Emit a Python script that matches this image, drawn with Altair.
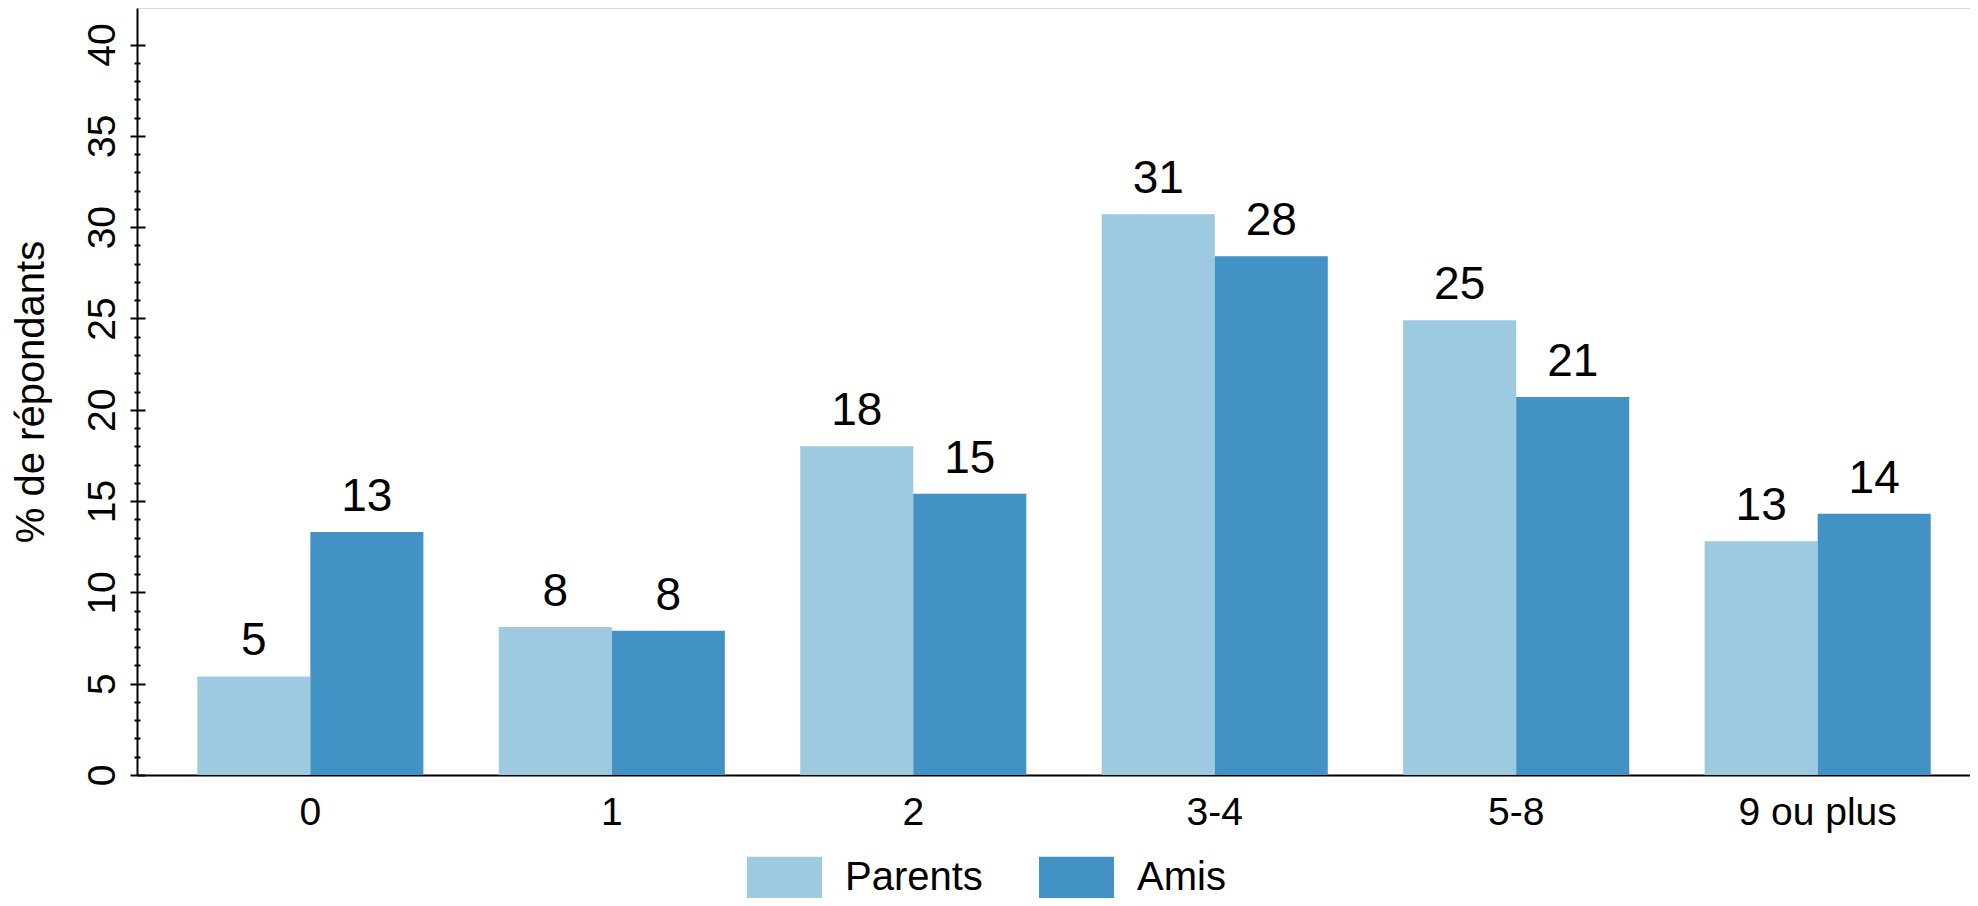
import altair as alt
import pandas as pd

categories = ["0", "1", "2", "3-4", "5-8", "9 ou plus"]
series = ["Parents", "Amis"]
parents = [5.4, 8.1, 18.0, 30.7, 24.9, 12.8]
amis = [13.3, 7.9, 15.4, 28.4, 20.7, 14.3]
colors = ["#9ecae1", "#4292c6"]
y_ticks = list(range(0, 41))

rows = []
for c, p, a in zip(categories, parents, amis):
    rows.append({"cat": c, "serie": "Parents", "val": p})
    rows.append({"cat": c, "serie": "Amis", "val": a})
df = pd.DataFrame(rows)

FONT = "Liberation Sans"
W, H = 1833, 767

xenc = alt.X(
    "cat:N", sort=categories,
    scale=alt.Scale(paddingInner=0.25, paddingOuter=0.2, range=[0, 1854]),
    axis=alt.Axis(title=None, ticks=False, labelAngle=0, labelFontSize=39,
                  labelPadding=18, labelColor="black", domainColor="black",
                  domainWidth=2, labelFont=FONT),
)
xoff = alt.XOffset("serie:N", sort=series, scale=alt.Scale(paddingInner=0, paddingOuter=0))
yscale = alt.Scale(domain=[0, 42], nice=False)

tick_cond = {"condition": {"test": "datum.value % 5 === 0", "value": 7}, "value": 3}
tick_cond_in = {"condition": {"test": "datum.value % 5 === 0", "value": 8}, "value": 3}

bars = alt.Chart(df).mark_bar().encode(
    x=xenc,
    xOffset=xoff,
    y=alt.Y("val:Q", scale=yscale,
            axis=alt.Axis(title="% de répondants", values=y_ticks,
                          labelExpr="datum.value % 5 === 0 ? datum.label : ''",
                          labelAngle=270, labelAlign="center", labelBaseline="bottom",
                          labelPadding=8, labelFontSize=39, labelColor="black",
                          labelFont=FONT, tickSize=tick_cond, tickWidth=2,
                          tickColor="black", domainColor="black", domainWidth=2,
                          titleFontSize=40, titleFontWeight="normal", titleColor="black",
                          titleFont=FONT, titlePadding=32, grid=False, orient="left")),
    color=alt.Color("serie:N", sort=series,
                    scale=alt.Scale(domain=series, range=colors),
                    legend=alt.Legend(title=None, orient="none", legendX=610, legendY=832,
                                      direction="horizontal",
                                      symbolType="M-1,-0.56H1V0.56H-1Z",
                                      symbolSize=5625, symbolStrokeWidth=0,
                                      symbolOpacity=1,
                                      labelFontSize=40, labelFont=FONT, labelColor="black",
                                      labelOffset=23, columnPadding=56, padding=0)),
)

labels = alt.Chart(df).mark_text(
    dy=-21, baseline="alphabetic", fontSize=46, font=FONT, color="black"
).encode(
    x=alt.X("cat:N", sort=categories,
            scale=alt.Scale(paddingInner=0.25, paddingOuter=0.2, range=[0, 1854])),
    xOffset=xoff,
    y=alt.Y("val:Q", scale=yscale,
            axis=alt.Axis(title=None, values=y_ticks, labels=False, domain=False,
                          orient="right", offset=-W, tickSize=tick_cond_in,
                          tickWidth=2, tickColor="black", grid=False)),
    text=alt.Text("val:Q", format=".0f"),
)

chart = alt.layer(bars, labels).resolve_scale(y="shared").resolve_axis(y="independent").properties(
    width=W, height=H,
    autosize=alt.AutoSizeParams(type="none"),
    padding={"left": 129, "top": 0, "right": 0, "bottom": 123},
).configure_view(stroke=None).configure(font=FONT, background="white")

chart.save("out.html", embed_options={"renderer": "svg", "actions": False})
